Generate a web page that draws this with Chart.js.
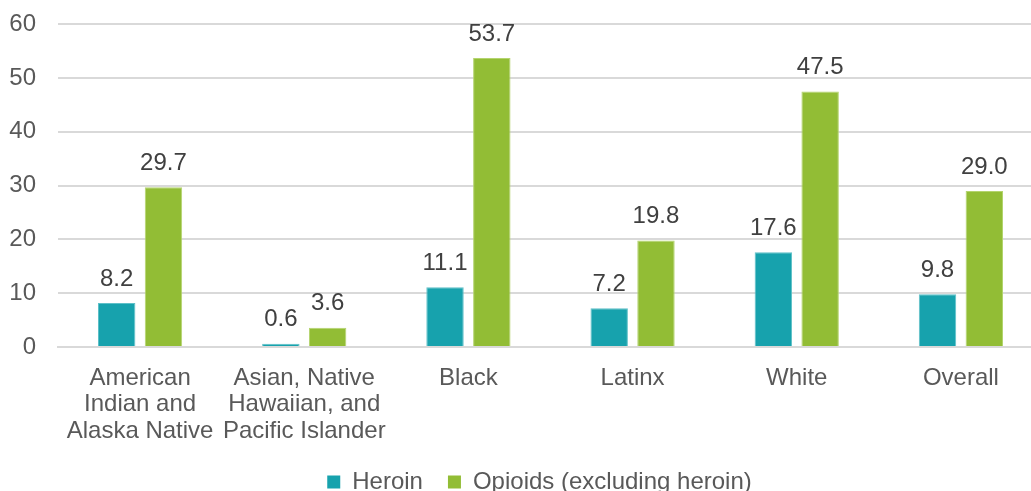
<!DOCTYPE html>
<html>
<head>
<meta charset="utf-8">
<script src="https://cdn.jsdelivr.net/npm/chart.js@4"></script>
<style>
  html, body { margin: 0; padding: 0; background: #fff; overflow: hidden; width: 1031px; height: 491px; }
  /* plot area in the source runs past the right edge, so the canvas is a bit bigger than the window */
  #wrap { position: absolute; left: 0; top: -11px; width: 1043px; height: 509px; }
</style>
</head>
<body>
<div id="wrap"><canvas id="myChart"></canvas></div>
<script>
// data
const categories = [
    ["American", "Indian and", "Alaska Native"],
    ["Asian, Native", "Hawaiian, and", "Pacific Islander"],
    "Black",
    "Latinx",
    "White",
    "Overall",
];
const heroin = [8.2, 0.6, 11.1, 7.2, 17.6, 9.8];
const opioids = [29.7, 3.6, 53.7, 19.8, 47.5, 29.0];
const yTicks = [0, 10, 20, 30, 40, 50, 60];

const textColor = "#595959";
const fontFamily = "'Liberation Sans', Arial, sans-serif";
const font = { family: fontFamily, size: 24, lineHeight: 1.1 };

// value labels above the bars
const barLabels = {
    id: "barLabels",
    afterDatasetsDraw(chart) {
        const c = chart.ctx;
        c.save();
        c.font = "24px " + fontFamily;
        c.fillStyle = "#404040";
        c.textAlign = "center";
        c.textBaseline = "bottom";
        chart.data.datasets.forEach((ds, i) => {
            chart.getDatasetMeta(i).data.forEach((bar, j) => {
                c.fillText(ds.data[j].toFixed(1), bar.x, bar.y - 12);
            });
        });
        c.restore();
    }
};

// nudge the legend a bit right and down, like the source
const legendShift = {
    id: "legendShift",
    afterLayout(chart) {
        chart.legend.left += 18;
        chart.legend.right += 18;
        chart.legend.top += 6;
        chart.legend.bottom += 6;
    }
};

var ctx = document.getElementById("myChart").getContext("2d");
var myChart = new Chart(ctx, {
    type: "bar",
    data: {
        labels: categories,
        datasets: [
            {
                label: "Heroin",
                data: heroin,
                backgroundColor: "#17A2AD",
                borderColor: "#5EC0C8",
                borderWidth: 1,
            },
            {
                label: "Opioids (excluding heroin)",
                data: opioids,
                backgroundColor: "#92BD35",
                borderColor: "#B4D46E",
                borderWidth: 1,
            },
        ],
    },
    options: {
        responsive: true,
        maintainAspectRatio: false,
        animation: false,
        layout: { padding: 0 },
        categoryPercentage: 0.57,
        barPercentage: 0.8,
        scales: {
            x: {
                grid: { display: false },
                border: { color: "#D9D9D9", width: 2 },
                ticks: { color: textColor, font: font, maxRotation: 0, autoSkip: false, padding: 10 },
                afterFit(scale) { scale.height = 92; },
            },
            y: {
                min: 0,
                max: 60,
                afterBuildTicks(scale) { scale.ticks = yTicks.map(v => ({ value: v })); },
                grid: { color: "#D9D9D9", lineWidth: 2, drawTicks: false },
                border: { display: false },
                ticks: { color: textColor, font: font, padding: 22 },
                afterFit(scale) { scale.width = 58; },
            },
        },
        plugins: {
            legend: {
                position: "bottom",
                labels: {
                    color: textColor,
                    font: { family: fontFamily, size: 24 },
                    boxWidth: 13,
                    boxHeight: 13,
                    padding: 25,
                    generateLabels(chart) {
                        return chart.data.datasets.map((ds, i) => ({
                            text: ds.label,
                            fillStyle: ds.backgroundColor,
                            strokeStyle: ds.backgroundColor,
                            lineWidth: 0,
                            fontColor: textColor,
                            datasetIndex: i,
                        }));
                    },
                },
            },
            tooltip: { enabled: false },
        },
    },
    plugins: [barLabels, legendShift],
});
</script>
</body>
</html>
